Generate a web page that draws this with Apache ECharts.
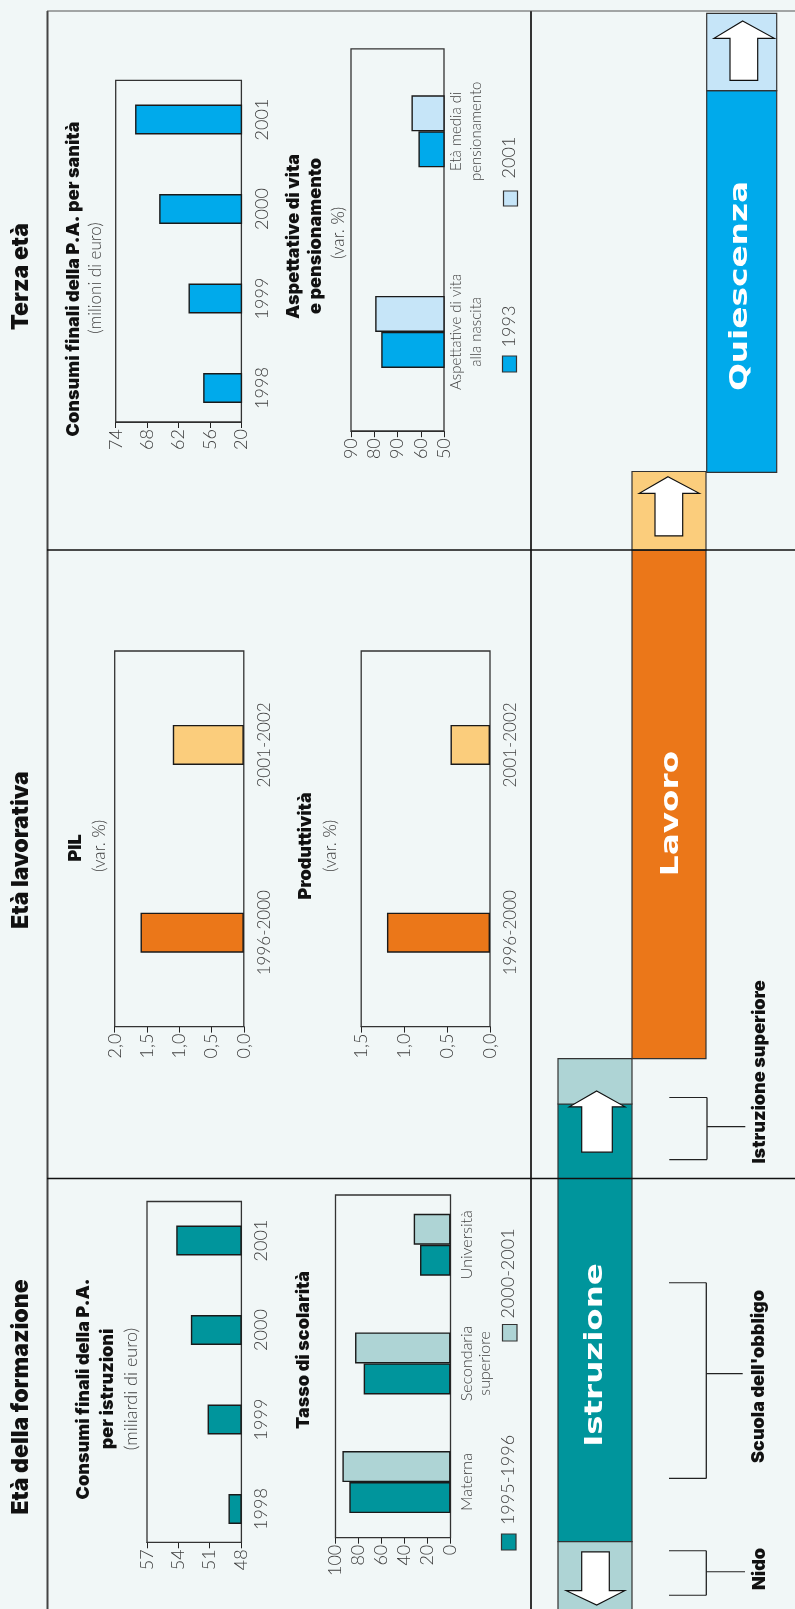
<!DOCTYPE html>
<html>
<head>
<meta charset="utf-8">
<style>html,body{margin:0;padding:0;background:#f1f7f7}#main{width:795px;height:1609px}</style>
<script src="https://cdn.jsdelivr.net/npm/echarts@6/dist/echarts.min.js"></script>
</head>
<body>
<div id="main"></div>
<script>
// Public spending, school enrolment, GDP, productivity and retirement across life stages.
const yearsSpending = ['1998', '1999', '2000', '2001'];
const educationSpending = [49.2, 51.2, 52.8, 54.2];
const healthSpending = [57.3, 60.1, 65.7, 70.3];

const schoolLevels = ['Materna', 'Secondaria\nsuperiore', 'Università'];
const enrolment9596 = [88, 75.5, 26.5];
const enrolment0001 = [94, 83, 32];

const growthPeriods = ['1996-2000', '2001-2002'];
const gdpGrowth = [1.6, 1.1];
const productivityGrowth = [1.2, 0.46];

const lifeMeasures = ['Aspettative di vita\nalla nascita', 'Età media di\npensionamento'];
const lifeValues1993 = [77, 61];
const lifeValues2001 = [79.6, 64];

const TEAL = '#00959c', TEAL_L = '#aed4d5';
const ORANGE = '#eb7719', ORANGE_L = '#fbcd7c';
const BLUE = '#00aaeb', BLUE_L = '#c6e5f8';
const INK = '#222', SOFT = '#3f3f3f', BG = '#f1f7f7';
const LIGHT_FONT = 'Lato', BOLD_FONT = 'Inter', WIDE_FONT = '"DejaVu Sans"';

const chart = echarts.init(document.getElementById('main'), null, {renderer: 'canvas'});

function barStyle(color) {
  return {color: color, borderColor: '#1a1a1a', borderWidth: 1.4};
}

// Horizontal bars with the value axis running right to left, read with the page turned.
function panel(index, g, xCfg, cats) {
  return {
    grid: {left: g.left, width: g.right - g.left, top: g.top, height: g.bottom - g.top, containLabel: false},
    xAxis: Object.assign({
      gridIndex: index, type: 'value', inverse: true, position: 'bottom', offset: g.offset || 0,
      splitLine: {show: false},
      axisLine: {show: true, onZero: false, lineStyle: {color: INK, width: 1.2}},
      axisTick: {show: true, length: 6, lineStyle: {color: INK, width: 1}},
    }, xCfg, {
      axisLabel: Object.assign({rotate: 90, fontFamily: LIGHT_FONT, fontWeight: 300, fontSize: 18, color: SOFT, margin: 7, align: 'right', verticalAlign: 'middle'}, xCfg.axisLabel)
    }),
    yAxis: {
      gridIndex: index, type: 'category', data: cats, position: 'right',
      axisLine: {show: false}, axisTick: {show: false},
      axisLabel: {rotate: 90, fontFamily: LIGHT_FONT, fontWeight: 300, fontSize: g.catSize || 18, lineHeight: g.catLine || 19, color: SOFT, margin: g.catMargin === undefined ? 11 : g.catMargin, align: 'center', verticalAlign: 'top'}
    }
  };
}

const panels = [
  panel(0, {left: 147, right: 241, top: 1195.75, bottom: 1553.75, offset: -11.45},
    {min: 48, max: 57, interval: 3}, yearsSpending),
  panel(1, {left: 335.5, right: 450.5, top: 1185.4, bottom: 1541.4, offset: -3.7, catSize: 16, catLine: 18, catMargin: 7},
    {min: 0, max: 100, interval: 20}, schoolLevels),
  panel(2, {left: 114.7, right: 243.8, top: 651, bottom: 1026.6, catSize: 17},
    {min: 0, max: 2, interval: 0.5, axisLabel: {formatter: v => v.toFixed(1).replace('.', ',')}}, growthPeriods),
  panel(3, {left: 361.2, right: 490, top: 651, bottom: 1026.6, catSize: 17},
    {min: 0, max: 1.5, interval: 0.5, axisLabel: {formatter: v => v.toFixed(1).replace('.', ',')}}, growthPeriods),
  panel(4, {left: 115.7, right: 241.4, top: 74.75, bottom: 432.75, offset: -10.75},
    {min: 50, max: 74,
     axisTick: {show: true, length: 6, lineStyle: {color: INK, width: 1}, customValues: [50, 56, 62, 68, 74]},
     axisLabel: {customValues: [50, 56, 62, 68, 74], formatter: v => v === 50 ? '20' : String(v)}}, yearsSpending),
  panel(5, {left: 351, right: 444, top: 31, bottom: 432.2, offset: -1, catSize: 15, catLine: 20, catMargin: 2},
    {min: 50, max: 90,
     axisTick: {show: true, length: 6, lineStyle: {color: INK, width: 1}, customValues: [50, 60, 70, 80, 90]},
     axisLabel: {customValues: [50, 60, 70, 80, 90], formatter: v => v === 70 ? '90' : String(v)}}, lifeMeasures)
];

function bars(index, name, data, width, color, extra) {
  return Object.assign({
    name: name, type: 'bar', xAxisIndex: index, yAxisIndex: index, data: data,
    barWidth: width, barGap: 0, itemStyle: barStyle(color), silent: true, animation: false
  }, extra);
}

// The later period is listed first so that it sits above the earlier one on the page.
const series = [
  bars(0, 'Istruzione', educationSpending, 30, TEAL),
  bars(1, '2000-2001', enrolment0001, 31, TEAL_L),
  bars(1, '1995-1996', enrolment9596, 31, TEAL),
  bars(2, 'PIL', gdpGrowth, 40, ORANGE, {
    data: gdpGrowth.map((v, i) => ({value: v, itemStyle: barStyle(i ? ORANGE_L : ORANGE)}))}),
  bars(3, 'Produttività', productivityGrowth, 40, ORANGE, {
    data: productivityGrowth.map((v, i) => ({value: v, itemStyle: barStyle(i ? ORANGE_L : ORANGE)}))}),
  bars(4, 'Sanità', healthSpending, 30, BLUE),
  bars(5, '2001', lifeValues2001, 36, BLUE_L),
  bars(5, '1993', lifeValues1993, 36, BLUE)
];

// Rotated text helper: x, y give the centre of the run of text on the page.
function label(x, y, text, size, opts) {
  opts = opts || {};
  return {
    type: 'text', x: x, y: y, rotation: Math.PI / 2, scaleX: opts.stretch || 1, silent: true, z: 20,
    style: {
      text: text, fontSize: size, fontFamily: opts.font || BOLD_FONT, fontWeight: opts.weight || 900,
      fill: opts.fill || '#111', align: 'center', verticalAlign: 'middle'
    }
  };
}
const lightLabel = (x, y, text, size) => label(x, y, text, size, {font: LIGHT_FONT, weight: 300, fill: SOFT});
const bandLabel = (x, y, text, stretch) => label(x, y, text, 25, {font: WIDE_FONT, weight: 700, fill: '#fff', stretch: stretch});

function line(x1, y1, x2, y2, width, color) {
  return {type: 'line', silent: true, z: 5, shape: {x1, y1, x2, y2},
    style: {stroke: color || INK, lineWidth: width || 1.5}};
}
function box(x, y, w, h, fill, z) {
  return {type: 'rect', silent: true, z: z || 1, shape: {x, y, width: w, height: h},
    style: {fill: fill, stroke: '#333', lineWidth: 1.2}};
}
function frame(x1, y1, x2, y2) {
  return {type: 'rect', silent: true, z: 1, shape: {x: x1, y: y1, width: x2 - x1, height: y2 - y1},
    style: {fill: 'transparent', stroke: '#333', lineWidth: 1.3}};
}
function arrow(points) {
  return {type: 'polygon', silent: true, z: 8, shape: {points: points},
    style: {fill: '#fff', stroke: '#111', lineWidth: 1.2}};
}
function upArrow(cx, tip, headBase, headL, headR, shL, shR, bottom) {
  return arrow([[cx, tip], [headR, headBase], [shR, headBase], [shR, bottom], [shL, bottom], [shL, headBase], [headL, headBase]]);
}
function bracket(xa, xb, xc, top, bottom, stem) {
  return [line(xa, top, xb, top, 1.1), line(xa, bottom, xb, bottom, 1.1), line(xb, top, xb, bottom, 1.3), line(xb, stem, xc, stem, 1.1)];
}

const graphics = [
  // Page rules
  line(47.5, 11, 47.5, 1609, 2, '#444'),
  line(531, 11, 531, 1609, 2, '#333'),
  line(47, 11, 795, 11, 1.2, '#555'),
  line(47, 550, 795, 550, 1.3, '#111'),
  line(47, 1178.5, 795, 1178.5, 1.3, '#111'),

  // Plot frames
  frame(147, 1201.5, 241.4, 1542.3),
  frame(335.5, 1195, 450.5, 1537.7),
  frame(114.7, 651, 243.8, 1026.6),
  frame(361.2, 651, 490, 1026.6),
  frame(115.7, 80.3, 241.4, 422),
  frame(351, 48.8, 444, 431),

  // Section headings
  label(21, 1397, 'Età della formazione', 23),
  label(21, 850, 'Età lavorativa', 23),
  label(21, 276.5, 'Terza età', 23),

  // Chart titles
  label(84, 1389, 'Consumi finali della P.A.', 18),
  label(108, 1389, 'per istruzioni', 18),
  lightLabel(131, 1389, '(miliardi di euro)', 18),
  label(304, 1350, 'Tasso di scolarità', 18),
  label(76, 848, 'PIL', 18),
  lightLabel(100, 846, '(var. %)', 17),
  label(306, 846, 'Produttività', 18),
  lightLabel(331, 846, '(var. %)', 17),
  label(74, 279, 'Consumi finali della P.A. per sanità', 18),
  lightLabel(96, 278, '(milioni di euro)', 17),
  label(294, 236.5, 'Aspettative di vita', 18),
  label(316, 236, 'e pensionamento', 18),
  lightLabel(339, 233, '(var. %)', 17),

  // Legends
  box(501.5, 1534, 14.5, 16, TEAL, 3),
  lightLabel(508, 1480, '1995-1996', 18),
  box(502.5, 1324.5, 14.5, 16.5, TEAL_L, 3),
  lightLabel(508, 1273.5, '2000-2001', 18),
  box(502.5, 356, 14, 16, BLUE, 3),
  lightLabel(509, 326.5, '1993', 18),
  box(503.5, 191, 14, 15, BLUE_L, 3),
  lightLabel(509, 157.5, '2001', 18),

  // Life course bands
  box(558, 1104, 74, 437.7, TEAL, 3),
  box(558, 1058.6, 74, 45.4, TEAL_L, 3),
  box(558, 1541.7, 74, 70, TEAL_L, 3),
  box(632, 550, 74, 508.6, ORANGE, 3),
  box(632, 471.5, 74, 78.5, ORANGE_L, 3),
  box(706.7, 90.7, 70, 381.6, BLUE, 3),
  box(706.7, 13.4, 70, 77.3, BLUE_L, 3),

  upArrow(742.7, 21, 38.3, 714, 774.3, 730, 757.7, 80.4),
  upArrow(668, 476.8, 493.3, 639.3, 699.3, 655, 682.7, 535.8),
  upArrow(596.7, 1090.9, 1106.8, 569.3, 625, 581.7, 612.3, 1152.2),
  arrow([[581.7, 1551.8], [609.3, 1551.8], [609.3, 1590.7], [624.7, 1590.7], [596.7, 1605], [566.3, 1590.7], [581.7, 1590.7]]),

  bandLabel(595, 1355, 'Istruzione', 1.3),
  bandLabel(671, 813.5, 'Lavoro', 1.31),
  bandLabel(740, 286, 'Quiescenza', 1.31),

  // School stages
  ...bracket(669.3, 707, 745.3, 1097.5, 1159.6, 1126.6),
  ...bracket(669, 706.3, 742.7, 1282.7, 1478.4, 1373.6),
  ...bracket(669, 706.3, 745, 1550.7, 1595.3, 1571.7),
  label(760, 1072, 'Istruzione superiore', 18),
  label(759, 1376.5, "Scuola dell'obbligo", 18),
  label(760, 1569, 'Nido', 18)
];

chart.setOption({
  backgroundColor: BG,
  animation: false,
  grid: panels.map(p => p.grid),
  xAxis: panels.map(p => p.xAxis),
  yAxis: panels.map(p => p.yAxis),
  series: series,
  graphic: {elements: graphics}
});
</script>
</body>
</html>
